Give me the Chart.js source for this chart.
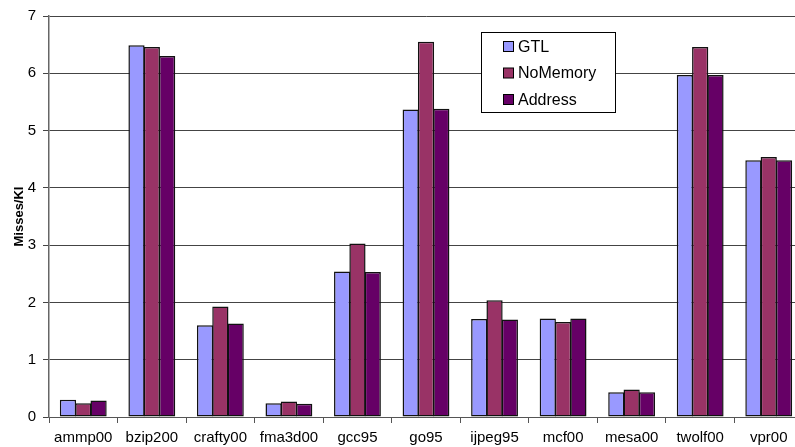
<!DOCTYPE html>
<html>
<head>
<meta charset="utf-8">
<style>
  html, body { margin: 0; padding: 0; background: #fff; overflow: hidden; }
  #wrap { width: 810px; height: 447px; }
</style>
<script src="https://cdn.jsdelivr.net/npm/chart.js@4/dist/chart.umd.min.js"></script>
</head>
<body>
<div id="wrap"><canvas id="chart" width="810" height="447"></canvas></div>
<script>
// benchmarks on the x axis
var benchmarks = ['ammp00', 'bzip200', 'crafty00', 'fma3d00', 'gcc95', 'go95',
                  'ijpeg95', 'mcf00', 'mesa00', 'twolf00', 'vpr00'];

// misses per KI
var gtl      = [0.30, 6.49, 1.60, 0.24, 2.54, 5.37, 1.71, 1.72, 0.43, 5.97, 4.48];
var noMemory = [0.24, 6.46, 1.93, 0.27, 3.03, 6.55, 2.04, 1.66, 0.48, 6.46, 4.54];
var address  = [0.29, 6.30, 1.63, 0.23, 2.53, 5.38, 1.70, 1.72, 0.43, 5.97, 4.48];

var yTicks = [0, 1, 2, 3, 4, 5, 6, 7];

var FONT = 'Liberation Sans, Arial, Helvetica, sans-serif';

// boxed legend sitting inside the plot, Excel style
var boxLegend = {
  id: 'boxLegend',
  afterDraw: function (chart) {
    var ctx = chart.ctx;
    var x = 481.5, y = 32.5, w = 134, h = 80;
    ctx.save();
    ctx.fillStyle = '#fff';
    ctx.fillRect(x, y, w, h);
    ctx.strokeStyle = '#000';
    ctx.lineWidth = 1;
    ctx.strokeRect(x, y, w, h);
    ctx.font = '16px ' + FONT;
    ctx.textBaseline = 'middle';
    chart.data.datasets.forEach(function (ds, i) {
      var cy = 46.5 + i * 26.5;
      ctx.fillStyle = ds.backgroundColor;
      ctx.fillRect(503.5, cy - 5, 10, 10);
      ctx.strokeStyle = '#000';
      ctx.strokeRect(503.5, cy - 5, 10, 10);
      ctx.fillStyle = '#000';
      ctx.fillText(ds.label, 518, cy + 1);
    });
    ctx.restore();
  }
};

new Chart(document.getElementById('chart'), {
  type: 'bar',
  data: {
    labels: benchmarks,
    datasets: [
      { label: 'GTL',      data: gtl,      backgroundColor: '#9999ff' },
      { label: 'NoMemory', data: noMemory, backgroundColor: '#993366' },
      { label: 'Address',  data: address,  backgroundColor: '#660066' }
    ].map(function (d) {
      d.borderColor = '#111';
      d.borderWidth = 1.5;
      d.borderSkipped = false;
      d.inflateAmount = 0;
      d.categoryPercentage = 0.67;
      d.barPercentage = 1.06;
      return d;
    })
  },
  options: {
    responsive: false,
    animation: false,
    layout: { padding: { top: 14, right: 7, left: 0, bottom: 0 } },
    plugins: {
      legend: { display: false },
      tooltip: { enabled: false }
    },
    scales: {
      x: {
        offset: true,
        grid: {
          offset: true,
          drawOnChartArea: false,
          drawTicks: true,
          tickLength: 6,
          color: '#555'
        },
        border: { color: '#555', width: 1 },
        ticks: {
          color: '#000',
          font: { family: FONT, size: 15 },
          padding: 6,
          maxRotation: 0,
          autoSkip: false
        },
        afterFit: function (s) { s.height = 30; }
      },
      y: {
        min: 0,
        max: 7,
        afterBuildTicks: function (s) {
          s.ticks = yTicks.map(function (v) { return { value: v }; });
        },
        grid: { color: '#444', tickLength: 6, lineWidth: 1 },
        border: { color: '#666', width: 1.5 },
        ticks: {
          color: '#000',
          font: { family: FONT, size: 15 },
          padding: 7
        },
        title: {
          display: true,
          text: 'Misses/KI',
          color: '#000',
          font: { family: FONT, size: 13, weight: 'bold' },
          padding: { top: 12, bottom: 2 }
        },
        afterFit: function (s) { s.width = 49; }
      }
    }
  },
  plugins: [boxLegend]
});
</script>
</body>
</html>
